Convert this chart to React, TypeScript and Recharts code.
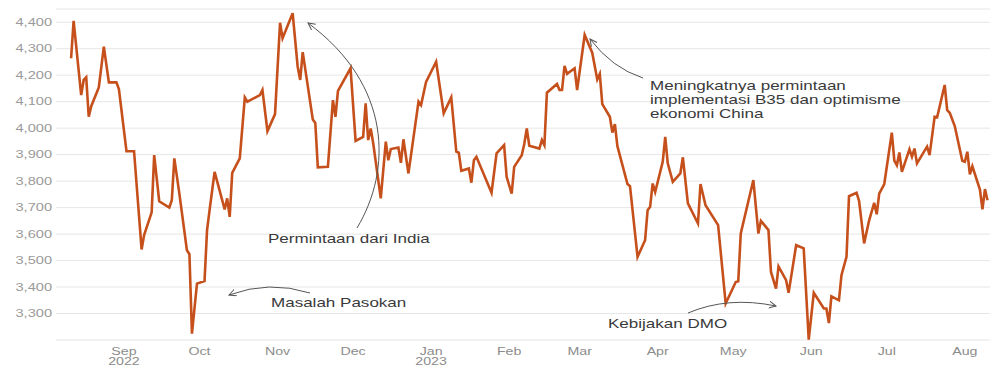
import { LineChart, Line, XAxis, YAxis, CartesianGrid } from 'recharts';

// trading days
const dates = [
    '2022-08-11', '2022-08-12', '2022-08-15', '2022-08-16', '2022-08-17', '2022-08-18', '2022-08-19', '2022-08-22',
    '2022-08-24', '2022-08-26', '2022-08-29', '2022-08-30', '2022-09-02', '2022-09-05', '2022-09-08', '2022-09-09',
    '2022-09-12', '2022-09-13', '2022-09-15', '2022-09-19', '2022-09-20', '2022-09-21', '2022-09-23', '2022-09-26',
    '2022-09-27', '2022-09-28', '2022-09-30', '2022-10-03', '2022-10-04', '2022-10-05', '2022-10-07', '2022-10-11',
    '2022-10-12', '2022-10-13', '2022-10-14', '2022-10-17', '2022-10-19', '2022-10-20', '2022-10-25', '2022-10-26',
    '2022-10-28', '2022-10-31', '2022-11-02', '2022-11-03', '2022-11-07', '2022-11-09', '2022-11-10', '2022-11-11',
    '2022-11-15', '2022-11-16', '2022-11-17', '2022-11-21', '2022-11-23', '2022-11-24', '2022-11-25', '2022-11-30',
    '2022-12-02', '2022-12-05', '2022-12-06', '2022-12-07', '2022-12-08', '2022-12-09', '2022-12-12', '2022-12-14',
    '2022-12-15', '2022-12-16', '2022-12-19', '2022-12-20', '2022-12-21', '2022-12-23', '2022-12-27', '2022-12-28',
    '2022-12-30', '2023-01-03', '2023-01-06', '2023-01-09', '2023-01-11', '2023-01-12', '2023-01-13', '2023-01-16',
    '2023-01-17', '2023-01-18', '2023-01-19', '2023-01-25', '2023-01-27', '2023-01-30', '2023-01-31', '2023-02-02',
    '2023-02-03', '2023-02-06', '2023-02-07', '2023-02-08', '2023-02-09', '2023-02-13', '2023-02-14', '2023-02-15',
    '2023-02-16', '2023-02-20', '2023-02-21', '2023-02-22', '2023-02-23', '2023-02-24', '2023-02-27', '2023-02-28',
    '2023-03-03', '2023-03-06', '2023-03-08', '2023-03-09', '2023-03-10', '2023-03-13', '2023-03-14', '2023-03-15',
    '2023-03-16', '2023-03-20', '2023-03-21', '2023-03-24', '2023-03-27', '2023-03-28', '2023-03-29', '2023-03-30',
    '2023-03-31', '2023-04-03', '2023-04-04', '2023-04-05', '2023-04-07', '2023-04-10', '2023-04-11', '2023-04-13',
    '2023-04-14', '2023-04-17', '2023-04-18', '2023-04-20', '2023-04-25', '2023-04-28', '2023-05-02', '2023-05-03',
    '2023-05-04', '2023-05-09', '2023-05-11', '2023-05-12', '2023-05-15', '2023-05-16', '2023-05-18', '2023-05-19',
    '2023-05-22', '2023-05-23', '2023-05-26', '2023-05-29', '2023-05-31', '2023-06-02', '2023-06-06', '2023-06-07',
    '2023-06-08', '2023-06-09', '2023-06-12', '2023-06-13', '2023-06-15', '2023-06-16', '2023-06-19', '2023-06-20',
    '2023-06-22', '2023-06-24', '2023-06-26', '2023-06-27', '2023-06-28', '2023-06-30', '2023-07-03', '2023-07-04',
    '2023-07-05', '2023-07-06', '2023-07-07', '2023-07-10', '2023-07-11', '2023-07-12', '2023-07-13', '2023-07-17',
    '2023-07-18', '2023-07-20', '2023-07-21', '2023-07-24', '2023-07-25', '2023-07-26', '2023-07-28', '2023-07-31',
    '2023-08-01', '2023-08-02', '2023-08-03', '2023-08-04', '2023-08-07', '2023-08-08', '2023-08-09', '2023-08-10',
];

const prices = [
    4264, 4405, 4125, 4182, 4192, 4043, 4083, 4154,
    4308, 4173, 4173, 4147, 3913, 3913, 3542, 3596,
    3682, 3898, 3724, 3700, 3728, 3886, 3753, 3539,
    3524, 3224, 3413, 3423, 3615, 3690, 3835, 3693,
    3735, 3665, 3831, 3886, 4116, 4100, 4125, 4144,
    3989, 4053, 4398, 4340, 4434, 4232, 4182, 4287,
    4033, 4020, 3852, 3854, 4106, 4043, 4141, 4226,
    3952, 3967, 4094, 3955, 3999, 3943, 3735, 3949,
    3879, 3921, 3927, 3869, 3958, 3829, 4100, 4087,
    4175, 4251, 4056, 4116, 3911, 3907, 3839, 3848,
    3794, 3879, 3892, 3756, 3905, 3936, 3816, 3753,
    3854, 3898, 3940, 3999, 3934, 3923, 3955, 3936,
    4134, 4167, 4144, 4144, 4235, 4205, 4226, 4144,
    4352, 4285, 4184, 4205, 4091, 4043, 3983, 4015,
    3932, 3789, 3781, 3514, 3577, 3690, 3703, 3791,
    3759, 3873, 3967, 3867, 3797, 3829, 3890, 3716,
    3697, 3640, 3789, 3709, 3634, 3338, 3419, 3422,
    3602, 3804, 3602, 3650, 3615, 3457, 3394, 3478,
    3426, 3378, 3558, 3546, 3201, 3378, 3319, 3319,
    3264, 3365, 3350, 3445, 3514, 3743, 3756, 3725,
    3565, 3652, 3718, 3675, 3753, 3789, 3983, 3877,
    3860, 3908, 3835, 3920, 3892, 3923, 3867, 3930,
    3898, 4043, 4041, 4163, 4068, 4058, 4008, 3877,
    3873, 3911, 3826, 3856, 3768, 3693, 3770, 3728,
];

const monthTicks = [
    '2022-09-01', '2022-10-01', '2022-11-01', '2022-12-01', '2023-01-01', '2023-02-01',
    '2023-03-01', '2023-04-01', '2023-05-01', '2023-06-01', '2023-07-01', '2023-08-01',
];
const monthNames = ['Jan', 'Feb', 'Mar', 'Apr', 'May', 'Jun', 'Jul', 'Aug', 'Sep', 'Oct', 'Nov', 'Dec'];
const yearLabelMonths = ['2022-09-01', '2023-01-01'];
const priceTicks = [3300, 3400, 3500, 3600, 3700, 3800, 3900, 4000, 4100, 4200, 4300, 4400];

const data = dates.map((d, i) => ({ t: Date.parse(d), price: prices[i] }));

const FONT = '"Liberation Sans", Arial, sans-serif';
const SX = 1.42; // the reference text is stretched wide

const YTick = ({ x, y, payload }: any) => (
    <text
        transform={`translate(${x},${y}) scale(${SX},1)`}
        textAnchor="end"
        dy="0.36em"
        fill="#9a9a9a"
        fontSize={10.3}
        fontFamily={FONT}
    >
        {payload.value.toLocaleString('en-US')}
    </text>
);

const XTick = ({ x, y, payload }: any) => {
    const d = new Date(payload.value);
    const iso = d.toISOString().slice(0, 10);
    const showYear = yearLabelMonths.includes(iso);
    return (
        <g transform={`translate(${x},${y}) scale(${SX},1)`}>
            <text textAnchor="middle" y={15} fill="#8c8c8c" fontSize={10} fontFamily={FONT}>
                {monthNames[d.getUTCMonth()]}
            </text>
            {showYear && (
                <text textAnchor="middle" y={25} fill="#8c8c8c" fontSize={10} fontFamily={FONT}>
                    {d.getUTCFullYear()}
                </text>
            )}
        </g>
    );
};

const Note = ({ x, y, lines }: { x: number; y: number; lines: string[] }) => (
    <text transform={`translate(${x},${y}) scale(${SX},1)`} fill="#3a3a3a" fontSize={12} fontFamily={FONT}>
        {lines.map((l, i) => (
            <tspan key={i} x={0} dy={i === 0 ? 0 : 14}>
                {l}
            </tspan>
        ))}
    </text>
);

const Annotations = () => (
    <svg width={992} height={367} style={{ position: 'absolute', left: 0, top: 0, pointerEvents: 'none' }}>
        <defs>
            <marker id="arr" markerWidth="9" markerHeight="9" refX="7" refY="4" orient="auto" markerUnits="userSpaceOnUse">
                <path d="M0,0.5 L7,4 L0,7.5" fill="none" stroke="#555" strokeWidth={1} />
            </marker>
        </defs>
        <g fill="none" stroke="#555" strokeWidth={1}>
            <path d="M357,228 C392,170 392,85 308,23" markerEnd="url(#arr)" />
            <path d="M310,293 Q269,280 229,295" markerEnd="url(#arr)" />
            <path d="M643,78 Q612,68 590,39" markerEnd="url(#arr)" />
            <path d="M688,313 Q728,296 776,306" markerEnd="url(#arr)" />
        </g>
        <Note x={268} y={243} lines={['Permintaan dari India']} />
        <Note x={271} y={306.5} lines={['Masalah Pasokan']} />
        <Note x={650} y={90} lines={['Meningkatnya permintaan', 'implementasi B35 dan optimisme', 'ekonomi China']} />
        <Note x={608} y={328} lines={['Kebijakan DMO']} />
    </svg>
);

const App = () => {
    return (
        <div style={{ position: 'fixed', left: 0, top: 0, width: 992, height: 367, background: '#fff' }}>
            <LineChart width={992} height={367} data={data} margin={{ top: 9, right: 2, bottom: 0, left: 0 }}>
                <CartesianGrid vertical={false} stroke="#e6e6e6" />
                <XAxis
                    dataKey="t"
                    type="number"
                    domain={[Date.parse('2022-08-05'), Date.parse('2023-08-11')]}
                    ticks={monthTicks.map((m) => Date.parse(m))}
                    tick={<XTick />}
                    axisLine={false}
                    tickLine={false}
                    tickSize={0}
                    tickMargin={0}
                    height={27}
                    interval={0}
                />
                <YAxis
                    domain={[3200, 4450]}
                    ticks={priceTicks}
                    tick={<YTick />}
                    axisLine={false}
                    tickLine={false}
                    tickSize={0}
                    tickMargin={4}
                    width={56}
                    interval={0}
                />
                <Line
                    type="linear"
                    dataKey="price"
                    stroke="#c6501c"
                    strokeWidth={2.6}
                    dot={false}
                    activeDot={false}
                    isAnimationActive={false}
                />
            </LineChart>
            <Annotations />
        </div>
    );
};

export default App;
